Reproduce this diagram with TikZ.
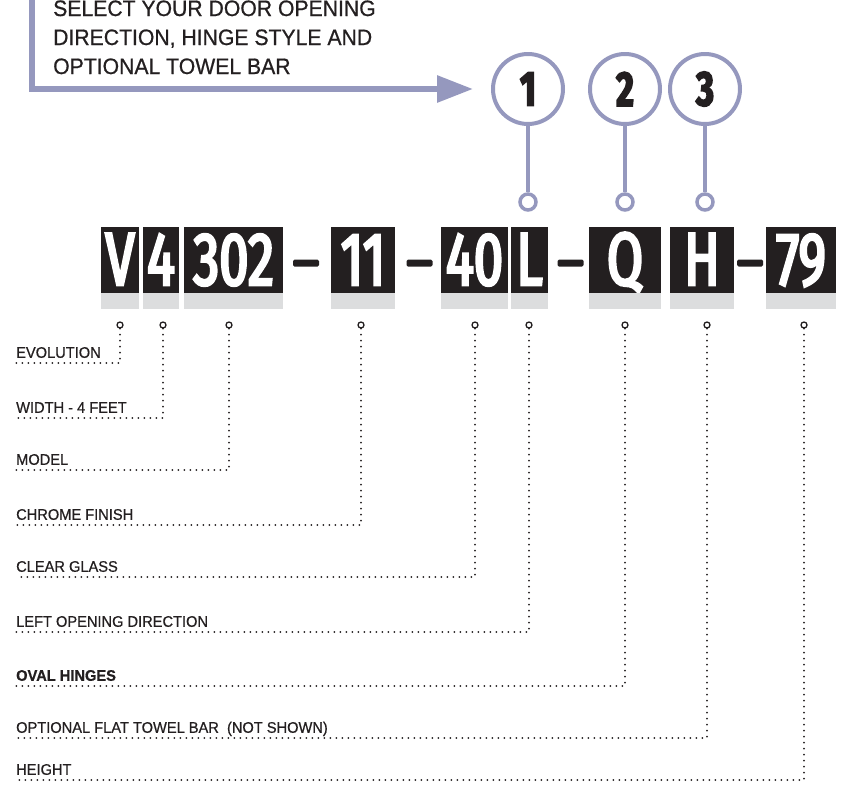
\documentclass[tikz,border=0pt]{standalone}
\usepackage{fontspec}
\setmainfont[FakeStretch=0.95, FakeBold=0.7]{Liberation Sans}
\newfontfamily\codefont[FakeStretch=0.70, FakeBold=3.5]{Fira Sans}
\usepackage{tikz}
\usetikzlibrary{arrows.meta, positioning, calc}
\definecolor{codeblack}{HTML}{231F20}
\definecolor{bandgrey}{HTML}{DCDDDE}
\definecolor{lavender}{HTML}{9598BE}

\begin{document}
\begin{tikzpicture}[
    x=1pt, y=-1pt,
    seg/.style={rectangle, fill=codeblack, text=white, inner sep=0pt, minimum height=66pt, text height=58pt, text depth=8pt, font={\codefont\fontsize{75pt}{75pt}\selectfont}},
    hyph/.style={rectangle, fill=codeblack, rounded corners=1.5pt, minimum width=26pt, minimum height=7pt, inner sep=0pt},
    badge/.style={circle, draw=lavender, line width=4pt, fill=white, minimum size=70pt, inner sep=0pt, text=codeblack, font={\codefont\bfseries\fontsize{49pt}{49pt}\selectfont}},
    knob/.style={circle, draw=lavender, line width=3.5pt, fill=white, minimum size=16pt, inner sep=0pt},
    pin/.style={circle, draw=codeblack, line width=1.3pt, fill=white, minimum size=6pt, inner sep=0pt},
    lbl/.style={anchor=south west, inner xsep=0pt, inner ysep=5pt, text depth=0pt, text=codeblack, font=\fontsize{15.4pt}{18pt}\selectfont},
    dots/.style={codeblack, line width=2pt, line cap=round, dash pattern=on 0pt off 6pt},
    stem/.style={lavender, line width=3.5pt},
    pointer/.style={lavender, line width=6pt, -{Triangle[length=36pt, width=26pt]}}
]
\useasboundingbox (0,0) rectangle (860,785);

\node[anchor=base west, align=left, inner sep=0pt, text=codeblack, font=\fontsize{22.3pt}{29pt}\selectfont] (intro) at (53,74) {SELECT YOUR DOOR OPENING\\DIRECTION, HINGE STYLE AND\\OPTIONAL TOWEL BAR};

\node[badge] (b1) at (528,89) {1};
\node[badge] (b2) at (625,89) {2};
\node[badge] (b3) at (705,89) {3};
\node[knob] (k1) at (528,202) {};
\node[knob] (k2) at (625,202) {};
\node[knob] (k3) at (705,202) {};
\draw[stem] (b1) -- (k1);
\draw[stem] (b2) -- (k2);
\draw[stem] (b3) -- (k3);

\coordinate (corner) at (32,-10);
\draw[pointer] (corner) |- ([xshift=-18pt]b1.west);

\node[seg, minimum width=38pt] (sv) at (120,260) {V};
\node[seg, minimum width=36pt] (s4) at (161,260) {4};
\node[seg, minimum width=99pt] (s302) at (233.5,260) {302};
\node[hyph] (h1) at (306,263) {};
\node[seg, minimum width=64pt] (s11) at (363,260) {11};
\node[hyph] (h2) at (419.5,263) {};
\node[seg, minimum width=67pt] (s40) at (474.5,260) {40};
\node[seg, minimum width=37pt] (sl) at (529.5,260) {L};
\node[hyph] (h3) at (570.5,263) {};
\node[seg, minimum width=72pt] (sq) at (625,260) {Q};
\node[seg, minimum width=64pt] (sh) at (702,260) {H};
\node[hyph] (h4) at (750,263) {};
\node[seg, minimum width=70pt] (s79) at (801,260) {79};
\foreach \s in {sv,s4,s302,s11,s40,sl,sq,sh,s79}
  \fill[bandgrey] (\s.south west) rectangle ($(\s.south east)+(0,16)$);

\node[pin] (p1) at (120,325) {};
\node[pin] (p2) at (163,325) {};
\node[pin] (p3) at (229,325) {};
\node[pin] (p4) at (361,325) {};
\node[pin] (p5) at (475,325) {};
\node[pin] (p6) at (529,325) {};
\node[pin] (p7) at (625,325) {};
\node[pin] (p8) at (707,325) {};
\node[pin] (p9) at (804,325) {};

\node[lbl] (l1) at (16,363) {EVOLUTION};
\node[lbl] (l2) at (16,418) {WIDTH - 4 FEET};
\node[lbl] (l3) at (16,470) {MODEL};
\node[lbl] (l4) at (16,525) {CHROME FINISH};
\node[lbl] (l5) at (16,577) {CLEAR GLASS};
\node[lbl] (l6) at (16,632) {LEFT OPENING DIRECTION};
\node[lbl, font=\fontsize{15.4pt}{18pt}\selectfont\bfseries] (l7) at (16,686) {OVAL HINGES};
\node[lbl] (l8) at (16,738) {OPTIONAL FLAT TOWEL BAR~ (NOT SHOWN)};
\node[lbl] (l9) at (16,780) {HEIGHT};

\draw[dots] (p1.south) |- (l1.south west);
\draw[dots] (p2.south) |- (l2.south west);
\draw[dots] (p3.south) |- (l3.south west);
\draw[dots] (p4.south) |- (l4.south west);
\draw[dots] (p5.south) |- (l5.south west);
\draw[dots] (p6.south) |- (l6.south west);
\draw[dots] (p7.south) |- (l7.south west);
\draw[dots] (p8.south) |- (l8.south west);
\draw[dots] (p9.south) |- (l9.south west);
\end{tikzpicture}
\end{document}
